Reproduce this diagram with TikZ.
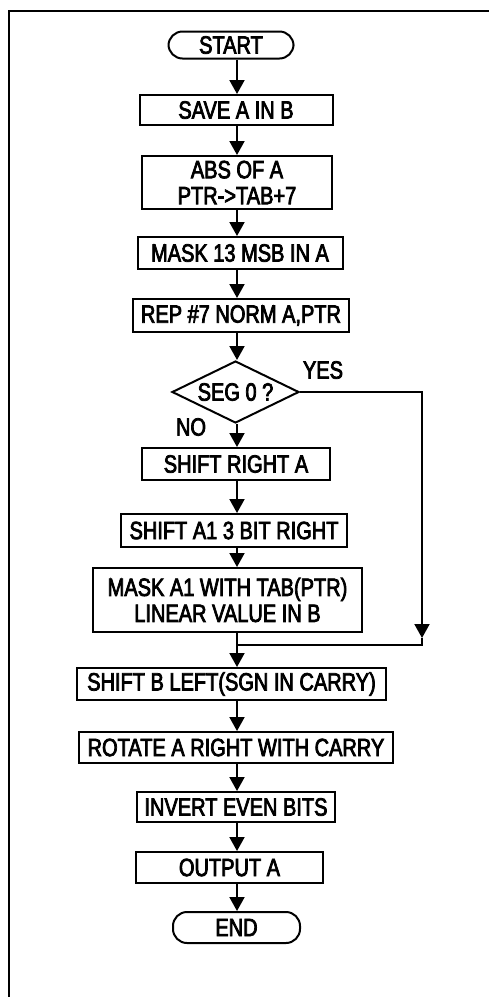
\documentclass[tikz,border=0pt]{standalone}
\usepackage{fontspec}
\setmainfont{Liberation Sans}[FakeStretch=0.8,FakeBold=3]
\usepackage{tikz}
\usetikzlibrary{arrows.meta,shapes.geometric}
\tikzset{
  stepbox/.style={draw=black, line width=2pt, inner sep=0pt, align=center,
    font=\fontsize{25}{26}\selectfont},
  termbox/.style={stepbox, rounded corners=14pt},
  testbox/.style={draw=black, line width=2pt, diamond, aspect=2, inner sep=0pt,
    font=\fontsize{25}{26}\selectfont},
  branch/.style={font=\fontsize{25}{26}\selectfont, inner sep=0pt},
  flow/.style={-{Triangle[length=14pt,width=15pt]}, line width=2pt},
  wire/.style={line width=2pt},
}
\begin{document}
\begin{tikzpicture}[x=1pt,y=-1pt]
\useasboundingbox (0,0) rectangle (489,997);
% frame runs off the page on the right and at the bottom
\draw[line width=2pt] (8.5,1000) -- (8.5,11) -- (492,11);
\coordinate (axis) at (237,0);
\node[termbox, minimum width=125pt, minimum height=27pt] (start) at (231,45) {START};
\node[stepbox, minimum width=193pt, minimum height=30pt] (save) at (236,110) {SAVE A IN B};
\node[stepbox, minimum width=190pt, minimum height=53pt] (abs) at (237,182.5) {ABS OF A\\ PTR->TAB+7};
\node[stepbox, minimum width=205pt, minimum height=32pt] (mask13) at (240,253) {MASK 13 MSB IN A};
\node[stepbox, minimum width=216pt, minimum height=33pt] (rep) at (241,315.5) {REP \#7 NORM A,PTR};
\node[testbox, minimum width=127pt, minimum height=62pt] (seg) at (235.5,392) {SEG 0 ?};
\node[branch] (yes) at (323,370) {YES};
\node[branch] (no) at (191,427) {NO};
\node[stepbox, minimum width=188pt, minimum height=32pt] (shr) at (236,464) {SHIFT RIGHT A};
\node[stepbox, minimum width=226pt, minimum height=33pt] (sha) at (234,530.5) {SHIFT A1 3 BIT RIGHT};
\node[stepbox, minimum width=269pt, minimum height=64pt] (maska) at (227.5,600) {MASK A1 WITH TAB(PTR)\\ LINEAR VALUE IN B};
\node[stepbox, minimum width=309pt, minimum height=32pt] (shb) at (231.5,684) {SHIFT B LEFT(SGN IN CARRY)};
\node[stepbox, minimum width=314pt, minimum height=31pt] (rot) at (236,747.5) {ROTATE A RIGHT WITH CARRY};
\node[stepbox, minimum width=198pt, minimum height=30pt] (inv) at (236,807) {INVERT EVEN BITS};
\node[stepbox, minimum width=187pt, minimum height=31pt] (outa) at (229.5,867.5) {OUTPUT A};
\node[termbox, minimum width=127pt, minimum height=31pt] (stop) at (236.5,927.5) {END};
\coordinate (yestip) at (422,638);
\coordinate (merge) at (237,645);
\foreach \a/\b in {start/save,save/abs,abs/mask13,mask13/rep,rep/seg,seg/shr,shr/sha,sha/maska,shb/rot,rot/inv,inv/outa,outa/stop}
  \draw[flow] (\a.south -| axis) -- (\b.north -| axis);
\draw[flow] (seg.east) -| (yestip);
\draw[wire] (yestip) |- (merge);
\draw[wire] (maska.south -| axis) -- (merge);
\draw[flow] (merge) -- (shb.north -| axis);
\end{tikzpicture}
\end{document}
